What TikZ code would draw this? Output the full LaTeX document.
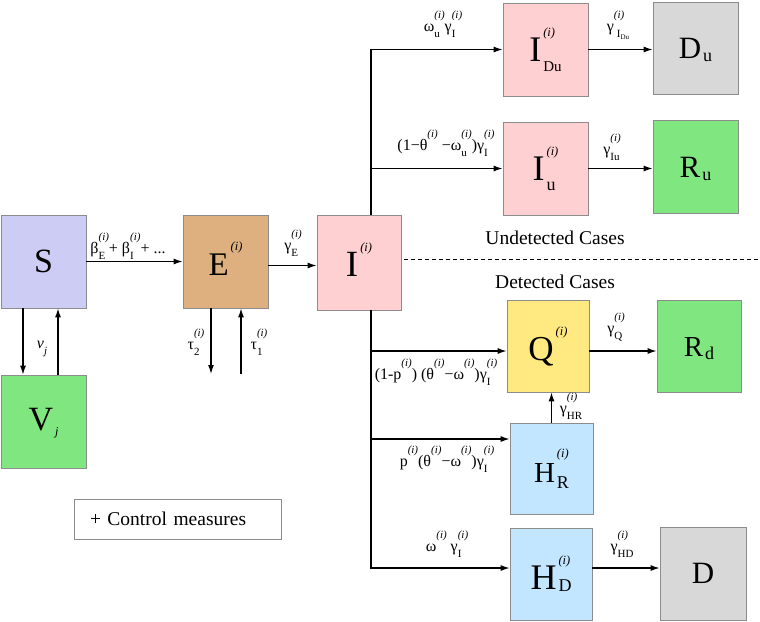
\documentclass[tikz,border=0pt]{standalone}
\usepackage{fontspec}
\setmainfont{Liberation Serif}
\usetikzlibrary{arrows.meta}
\definecolor{cS}{RGB}{204,204,245}
\definecolor{cE}{RGB}{222,176,128}
\definecolor{cI}{RGB}{255,208,210}
\definecolor{cG}{RGB}{128,230,128}
\definecolor{cD}{RGB}{216,216,216}
\definecolor{cQ}{RGB}{255,233,128}
\definecolor{cH}{RGB}{194,230,255}
\newcommand\pI{\textit{(i)}}
% stack: #1 sup size, #2 sub size, #3 raise, #4 lower, #5 sup, #6 sub
\newcommand\stk[6]{\begingroup\setbox0=\hbox{\raisebox{#3}{\fontsize{#1}{#1}\selectfont #5}}\setbox2=\hbox{\raisebox{-#4}{\fontsize{#2}{#2}\selectfont #6}}\ifdim\wd0>\wd2 \rlap{\box2}\box0\else\rlap{\box0}\box2\fi\endgroup}
% big compartment: #1 size, #2 letter, #3 sup, #4 sub, #5 sub size, #6 sub lower
\newcommand\cmp[6]{{\fontsize{#1}{#1}\selectfont #2}\hspace{2pt}\stk{12.5}{#5}{25pt}{#6}{#3}{#4}}
% label stack
\newcommand\lb[2]{\stk{11}{11}{12.5pt}{6pt}{#1}{#2}}
\begin{document}
\begin{tikzpicture}[x=1pt,y=-1pt,
  box/.style={draw=black!45, line width=0.7pt, minimum width=85pt, minimum height=93pt, inner sep=0pt},
  arr/.style={line width=1.3pt, -{Latex[length=9pt,width=6pt]}},
  ln/.style={line width=1.3pt},
  lab/.style={font=\fontsize{16}{16}\selectfont, inner sep=0pt},
  txt/.style={font=\fontsize{19.5}{19.5}\selectfont, inner sep=0pt}]
\useasboundingbox (0,0) rectangle (760,621);
% compartments
\node[box,fill=cS] (S) at (43.5,261.5) {\fontsize{34}{34}\selectfont S};
\node[box,fill=cG] (V) at (43.5,421.5) {\cmp{34}{V}{}{\textit{j}}{12}{5pt}};
\node[box,fill=cE] (E) at (225.5,261.5) {\cmp{33}{E}{\pI}{}{12}{5pt}};
\node[box,fill=cI,minimum width=84pt,minimum height=95pt] (I) at (359,262.5) {\cmp{37}{I}{\pI}{}{12}{5pt}};
\node[box,fill=cI] (IDu) at (545.5,49.5) {\cmp{36}{I}{\pI}{Du}{15}{10pt}};
\node[box,fill=cD,minimum height=92pt] (Du) at (695.5,48) {\cmp{31}{D}{}{u}{18}{3pt}};
\node[box,fill=cI] (IU) at (545.5,168.5) {\cmp{36}{I}{\pI}{u}{18}{10pt}};
\node[box,fill=cG] (Ru) at (695.5,166.5) {\cmp{31}{R}{}{u}{18}{3pt}};
\node[box,fill=cQ,minimum width=82pt,minimum height=92pt] (Q) at (548,346) {\cmp{35}{Q}{\pI}{}{12}{5pt}};
\node[box,fill=cG,minimum width=84pt,minimum height=92pt] (Rd) at (699,346) {\cmp{29}{R}{}{d}{18}{3pt}};
\node[box,fill=cH,minimum width=83pt,minimum height=91pt] (HR) at (551.5,468.5) {\cmp{29}{H}{\pI}{R}{18}{6pt}};
\node[box,fill=cH,minimum width=82pt,minimum height=92pt] (HD) at (551,574) {\cmp{36}{H}{\pI}{D}{18}{2pt}};
\node[box,fill=cD,minimum width=86pt] (D) at (703,573.5) {\fontsize{31}{31}\selectfont D};
% control measures
\node[draw=black!45, line width=0.7pt, txt, text width=175pt, inner xsep=16pt, inner ysep=0pt, minimum height=40pt, align=left] (ctrl) at (177.5,519) {+ Control measures};
% section texts
\node[txt] (und) at (555,238) {Undetected Cases};
\node[txt] (det) at (555,282) {Detected Cases};
\coordinate (dashend) at (760,259);
\draw[line width=1pt, dash pattern=on 4pt off 3pt] ([xshift=3pt,yshift=3.5pt]I.east) -- (dashend);
% main flow
\draw[arr] (S.east) -- (E.west);
\draw[arr] ([yshift=-4pt]E.east) -- ([yshift=-4pt]E.east -| I.west);
\draw[arr] ([xshift=-20.5pt]S.south) -- ([xshift=-20.5pt]V.north);
\draw[arr] ([xshift=14.5pt]V.north) -- ([xshift=14.5pt]S.south);
\coordinate (e2) at (211,374);
\coordinate (e1) at (241,374);
\draw[arr] (E.south -| e2) -- (e2);
\draw[arr] (e1) -- (E.south -| e1);
% trunk
\draw[arr] ([xshift=12pt]I.north) |- (IDu.west);
\draw[arr] ([xshift=12pt]I.south) |- ([yshift=6pt]HD.west);
\draw[arr] ([xshift=12pt]I.north |- IU.west) -- (IU.west);
\draw[arr] ([xshift=12pt]I.south |- Q.west) ++(0,5) -- ([yshift=-5pt]Q.west);
\draw[arr] ([xshift=12pt]I.south |- HR.west) ++(0,-29.5) -- ([yshift=29.5pt]HR.west);
% outflows
\draw[arr] (IDu.east) -- (IDu.east -| Du.west);
\draw[arr] (IU.east) -- (IU.east -| Ru.west);
\draw[arr] ([yshift=-5pt]Q.east) -- ([yshift=-5pt]Q.east -| Rd.west);
\draw[arr] ([yshift=6pt]HD.east) -- ([yshift=6pt]HD.east -| D.west);
\draw[arr] (HR.north) -- (HR.north |- Q.south);
% labels
\node[lab] (lbeta) at (128,246) {β\lb{\pI}{E}+ β\lb{\pI}{I}+ ...};
\node[lab] (lnu) at (42,346) {\textit{ν}\lb{}{\textit{j}}};
\node[lab] (ltau2) at (196,342) {τ\lb{\pI}{2}};
\node[lab] (ltau1) at (259,342) {τ\lb{\pI}{1}};
\node[lab] (lgE) at (293,243) {γ\lb{\pI}{E}};
\node[lab] (lw1) at (443,24) {ω\lb{\pI}{u}γ\lb{\pI}{I}};
\node[lab] (lgDu) at (618,25) {γ\lb{\pI}{\hspace{3pt}I\raisebox{-2pt}{\fontsize{7}{7}\selectfont Du}}};
\node[lab] (lw2) at (446,143) {(1−θ\lb{\pI}{} −ω\lb{\pI}{u})γ\lb{\pI}{I}};
\node[lab] (lgIu) at (612,147) {γ\lb{\pI}{Iu}};
\node[lab] (lgQ) at (616,327) {γ\lb{\pI}{Q}};
\node[lab] (lq) at (436,372) {(1-p\lb{\pI}{}) (θ\lb{\pI}{}−ω\lb{\pI}{})γ\lb{\pI}{I}};
\node[lab] (lgHR) at (571,406) {γ\lb{\pI}{HR}};
\node[lab] (lhr) at (447,459) {p\lb{\pI}{}(θ\lb{\pI}{}−ω\lb{\pI}{})γ\lb{\pI}{I}};
\node[lab] (lhd) at (447,544) {ω\lb{\pI}{} γ\lb{\pI}{I}};
\node[lab] (lgHD) at (622,544) {γ\lb{\pI}{HD}};
\end{tikzpicture}
\end{document}
